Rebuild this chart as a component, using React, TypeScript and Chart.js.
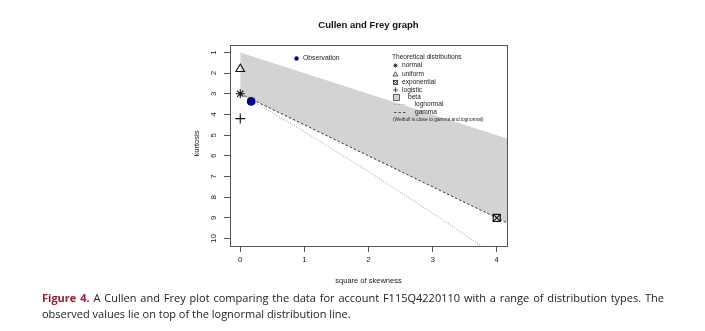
import React, { useEffect, useRef } from "react";
import { Chart, registerables } from "chart.js";

Chart.register(...registerables);

// ---- data ----
const xTicks = [0, 1, 2, 3, 4];
const yTicks = [1, 2, 3, 4, 5, 6, 7, 8, 9, 10];
const observation = [{ x: 0.17, y: 3.37 }];
const normalPt = [{ x: 0, y: 3 }];
const uniformPt = [{ x: 0, y: 1.8 }];
const logisticPt = [{ x: 0, y: 4.2 }];
const exponentialPt = [{ x: 4, y: 9 }];
const lognormalLine = [
  { x: 0, y: 3 },
  { x: 1, y: 4.83 },
  { x: 2, y: 6.76 },
  { x: 3, y: 8.77 },
  { x: 4, y: 10.86 },
];
const gammaLine = [
  { x: 0, y: 3 },
  { x: 4.5, y: 9.75 },
];
const betaUpper = [
  { x: 0, y: 1 },
  { x: 4.5, y: 5.5 },
];
const betaLower = [
  { x: 0, y: 3 },
  { x: 4.5, y: 9.75 },
];

const FONT = "'Liberation Sans', Arial, sans-serif";

const overlay = {
  id: "overlay",
  afterDraw(chart: any) {
    const ctx = chart.ctx as CanvasRenderingContext2D;
    const a = chart.chartArea;
    const ys = chart.scales.y;
    ctx.save();
    // box
    ctx.strokeStyle = "#555";
    ctx.lineWidth = 1;
    ctx.strokeRect(Math.round(a.left) + 0.5, Math.round(a.top) + 0.5, Math.round(a.right - a.left), Math.round(a.bottom - a.top));
    // title
    ctx.fillStyle = "#111";
    ctx.font = `bold 9.5px ${FONT}`;
    ctx.textAlign = "center";
    ctx.textBaseline = "middle";
    ctx.fillText("Cullen and Frey graph", (a.left + a.right) / 2, 25);
    // axis titles
    ctx.font = `7.5px ${FONT}`;
    ctx.fillStyle = "#222";
    ctx.fillText("square of skewness", (a.left + a.right) / 2, 281);
    ctx.save();
    ctx.translate(197, (a.top + a.bottom) / 2 - 2);
    ctx.rotate(-Math.PI / 2);
    ctx.fillText("kurtosis", 0, 0);
    ctx.restore();
    // y tick labels (rotated, R style)
    ctx.font = `8px ${FONT}`;
    for (const v of yTicks) {
      const py = ys.getPixelForValue(v);
      ctx.save();
      ctx.translate(213.5, py);
      ctx.rotate(-Math.PI / 2);
      ctx.fillText(String(v), 0, 0);
      ctx.restore();
    }
    // legends
    ctx.textAlign = "left";
    ctx.font = `6.8px ${FONT}`;
    ctx.fillStyle = "#00008B";
    ctx.beginPath();
    ctx.arc(296.5, 58.5, 2.2, 0, Math.PI * 2);
    ctx.fill();
    ctx.fillStyle = "#222";
    ctx.fillText("Observation", 303, 58.5);

    ctx.font = `6.6px ${FONT}`;
    ctx.fillText("Theoretical distributions", 392, 57.5);
    ctx.strokeStyle = "#222";
    ctx.lineWidth = 0.8;
    const sx = 395.5;
    // normal asterisk
    const star = (cx: number, cy: number, r: number) => {
      ctx.beginPath();
      ctx.moveTo(cx - r, cy); ctx.lineTo(cx + r, cy);
      ctx.moveTo(cx, cy - r); ctx.lineTo(cx, cy + r);
      const d = r * 0.707;
      ctx.moveTo(cx - d, cy - d); ctx.lineTo(cx + d, cy + d);
      ctx.moveTo(cx - d, cy + d); ctx.lineTo(cx + d, cy - d);
      ctx.stroke();
    };
    star(sx, 65.5, 2.2);
    ctx.fillText("normal", 402, 65.5);
    // uniform triangle
    ctx.beginPath();
    ctx.moveTo(sx, 71.8); ctx.lineTo(sx + 2.4, 76); ctx.lineTo(sx - 2.4, 76); ctx.closePath();
    ctx.stroke();
    ctx.fillText("uniform", 402, 74);
    // exponential square cross
    ctx.strokeRect(sx - 2, 80.5, 4, 4);
    ctx.beginPath();
    ctx.moveTo(sx - 2, 80.5); ctx.lineTo(sx + 2, 84.5);
    ctx.moveTo(sx - 2, 84.5); ctx.lineTo(sx + 2, 80.5);
    ctx.stroke();
    ctx.fillText("exponential", 402, 82.5);
    // logistic plus
    ctx.beginPath();
    ctx.moveTo(sx - 2.6, 90); ctx.lineTo(sx + 2.6, 90);
    ctx.moveTo(sx, 87.4); ctx.lineTo(sx, 92.6);
    ctx.stroke();
    ctx.fillText("logistic", 402, 90);
    // beta box
    ctx.fillStyle = "#d3d3d3";
    ctx.fillRect(393.5, 94.5, 6, 6);
    ctx.strokeStyle = "#444";
    ctx.strokeRect(393.5, 94.5, 6, 6);
    ctx.fillStyle = "#222";
    ctx.fillText("beta", 408, 97.5);
    // lognormal dotted
    ctx.strokeStyle = "#888";
    ctx.setLineDash([1, 1.5]);
    ctx.beginPath();
    ctx.moveTo(394, 104.5); ctx.lineTo(406, 104.5);
    ctx.stroke();
    ctx.fillText("lognormal", 414.5, 104.5);
    // gamma dashed
    ctx.strokeStyle = "#333";
    ctx.setLineDash([2.5, 2]);
    ctx.beginPath();
    ctx.moveTo(394, 112.5); ctx.lineTo(406, 112.5);
    ctx.stroke();
    ctx.setLineDash([]);
    ctx.fillText("gamma", 415, 112.5);
    ctx.font = `4.8px ${FONT}`;
    ctx.fillText("(Weibull is close to gamma and lognormal)", 393, 119.5);
    ctx.restore();
  },
};

function App() {
  const ref = useRef<HTMLCanvasElement | null>(null);
  useEffect(() => {
    if (!ref.current) return;
    const chart = new Chart(ref.current, {
      type: "scatter",
      data: {
        datasets: [
          { data: observation, pointStyle: "circle", radius: 4.4, backgroundColor: "#00008B", borderColor: "#00008B", borderWidth: 0 },
          { data: exponentialPt, pointStyle: "rect", radius: 5, backgroundColor: "rgba(0,0,0,0)", borderColor: "#111", borderWidth: 1.2 },
          { data: exponentialPt, pointStyle: "crossRot", radius: 5, borderColor: "#111", borderWidth: 1.2 },
          { data: normalPt, pointStyle: "star", radius: 4.5, borderColor: "#111", borderWidth: 1.1 },
          { data: uniformPt, pointStyle: "triangle", radius: 5, backgroundColor: "rgba(0,0,0,0)", borderColor: "#111", borderWidth: 1.1 },
          { data: logisticPt, pointStyle: "cross", radius: 5, borderColor: "#111", borderWidth: 1.1 },
          { data: lognormalLine, showLine: true, pointRadius: 0, borderColor: "#999", borderWidth: 1, borderDash: [1, 1.5], fill: false },
          { data: gammaLine, showLine: true, pointRadius: 0, borderColor: "#333", borderWidth: 1, borderDash: [2.5, 2], fill: false },
          { data: betaUpper, showLine: true, pointRadius: 0, borderWidth: 0, borderColor: "rgba(0,0,0,0)", fill: false },
          { data: betaLower, showLine: true, pointRadius: 0, borderWidth: 0, borderColor: "rgba(0,0,0,0)", backgroundColor: "#d3d3d3", fill: "-1" },
        ],
      },
      options: {
        animation: false,
        responsive: false,
        events: [],
        layout: { padding: { left: 180, right: 198, top: 45, bottom: 35 } },
        plugins: { legend: { display: false }, tooltip: { enabled: false }, title: { display: false } },
        scales: {
          x: {
            type: "linear",
            min: -0.16,
            max: 4.16,
            afterBuildTicks: (s: any) => { s.ticks = xTicks.map((v) => ({ value: v })); },
            afterFit: (s: any) => { s.height = 50; },
            grid: { display: true, drawOnChartArea: false, drawTicks: true, tickLength: 6, color: "#555" },
            border: { display: false },
            ticks: { font: { size: 8, family: FONT }, color: "#222", padding: 3, maxRotation: 0 },
          },
          y: {
            type: "linear",
            reverse: true,
            min: 0.64,
            max: 10.36,
            afterBuildTicks: (s: any) => { s.ticks = yTicks.map((v) => ({ value: v })); },
            afterFit: (s: any) => { s.width = 50; },
            grid: { display: true, drawOnChartArea: false, drawTicks: true, tickLength: 6, color: "#555" },
            border: { display: false },
            ticks: { display: false },
          },
        },
      },
      plugins: [overlay],
    } as any);
    return () => chart.destroy();
  }, []);

  return (
    <div style={{ position: "absolute", left: 0, top: 0, width: 705, height: 331, background: "#fff" }}>
      <canvas ref={ref} width={705} height={331} style={{ position: "absolute", left: 0, top: 0, width: 705, height: 331 }} />
      <div
        style={{
          position: "absolute",
          left: 42,
          top: 290,
          width: 622,
          fontFamily: "'Open Sans', sans-serif",
          fontSize: 11,
          lineHeight: "16px",
          color: "#222",
          textAlign: "justify",
        }}
      >
        <span style={{ color: "#9B1B30", fontWeight: "bold" }}>Figure 4.</span> A Cullen and Frey plot comparing the data for account F115Q4220110 with a range of distribution types. The observed values lie on top of the lognormal distribution line.
      </div>
    </div>
  );
}

export default App;
